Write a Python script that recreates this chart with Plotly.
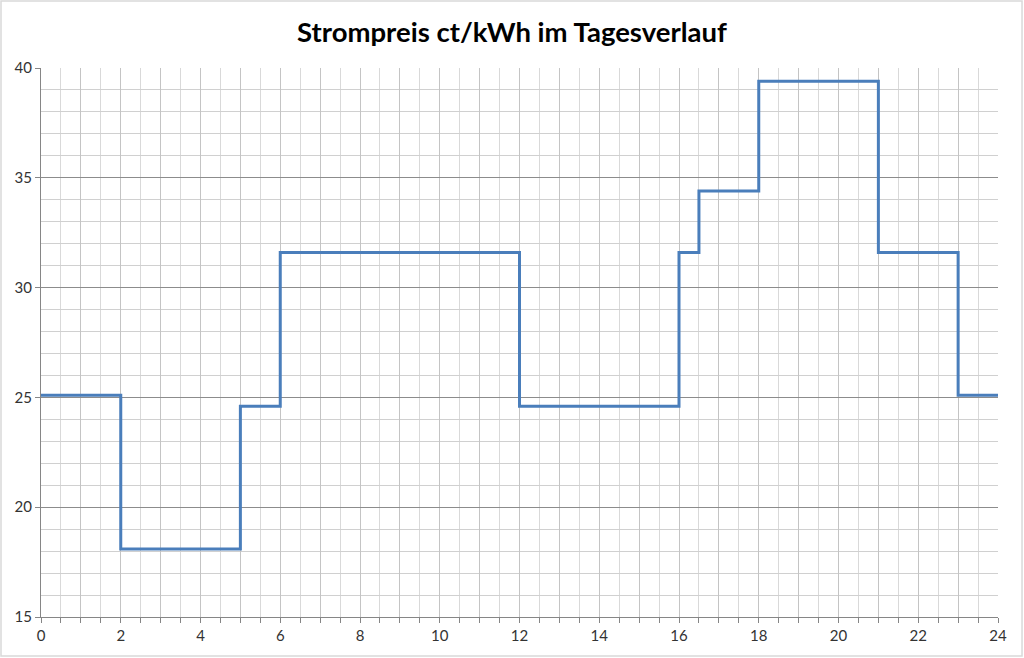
import plotly.graph_objects as go

# Stufenweise Strompreise (Beginn jeder Stufe in Stunden)
hours = [0, 2, 5, 6, 12, 16, 16.5, 18, 21, 23, 24]
price = [25.1, 18.1, 24.6, 31.6, 24.6, 31.6, 34.4, 39.4, 31.6, 25.1, 25.1]

x_tickvals = list(range(0, 25))
x_ticktext = [str(h) if h % 2 == 0 else '' for h in x_tickvals]
y_tickvals = [15, 20, 25, 30, 35, 40]

fig = go.Figure()

fig.add_trace(go.Scatter(
    x=hours,
    y=price,
    mode='lines',
    line=dict(color='#4a7ebb', width=3, shape='hv'),
    hoverinfo='x+y',
    showlegend=False
))

# Rahmen um das ganze Diagramm
fig.add_shape(
    type='rect', xref='paper', yref='paper',
    x0=-0.0418, x1=1.0251, y0=-0.0710, y1=1.1220,
    line=dict(color='#d9d9d9', width=1.5),
    layer='below'
)

fig.update_layout(
    title=dict(
        text='<b>Strompreis ct/kWh im Tagesverlauf</b>',
        x=0.5, xanchor='center', y=0.951, yanchor='middle',
        font=dict(family='Lato', size=27.5, color='#000000')
    ),
    font=dict(family='Lato', size=15, color='#333333'),
    width=1024,
    height=658,
    margin=dict(l=41, r=26, t=68, b=41),
    paper_bgcolor='white',
    plot_bgcolor='white',
    xaxis=dict(
        range=[0, 24],
        tickmode='array',
        tickvals=x_tickvals,
        ticktext=x_ticktext,
        showgrid=True,
        gridcolor='#c4c4c4',
        gridwidth=1,
        ticks='outside',
        ticklen=5,
        tickcolor='#868686',
        showline=True,
        linecolor='#868686',
        zeroline=False,
        minor=dict(dtick=0.5, showgrid=True, gridcolor='#d9d9d9', gridwidth=1,
                   ticks='outside', ticklen=5, tickcolor='#868686'),
        fixedrange=True
    ),
    yaxis=dict(
        range=[15, 40],
        tickmode='array',
        tickvals=y_tickvals,
        showgrid=True,
        gridcolor='#8c8c8c',
        gridwidth=1,
        ticks='outside',
        ticklen=5,
        tickcolor='#868686',
        showline=True,
        linecolor='#868686',
        zeroline=False,
        minor=dict(dtick=1, showgrid=True, gridcolor='#d0d0d0', gridwidth=1),
        fixedrange=True
    )
)

# remove the default page margin so the figure fills the window exactly
fig.write_html('out.html', config={'displayModeBar': False},
               post_script="document.body.style.margin='0';")
